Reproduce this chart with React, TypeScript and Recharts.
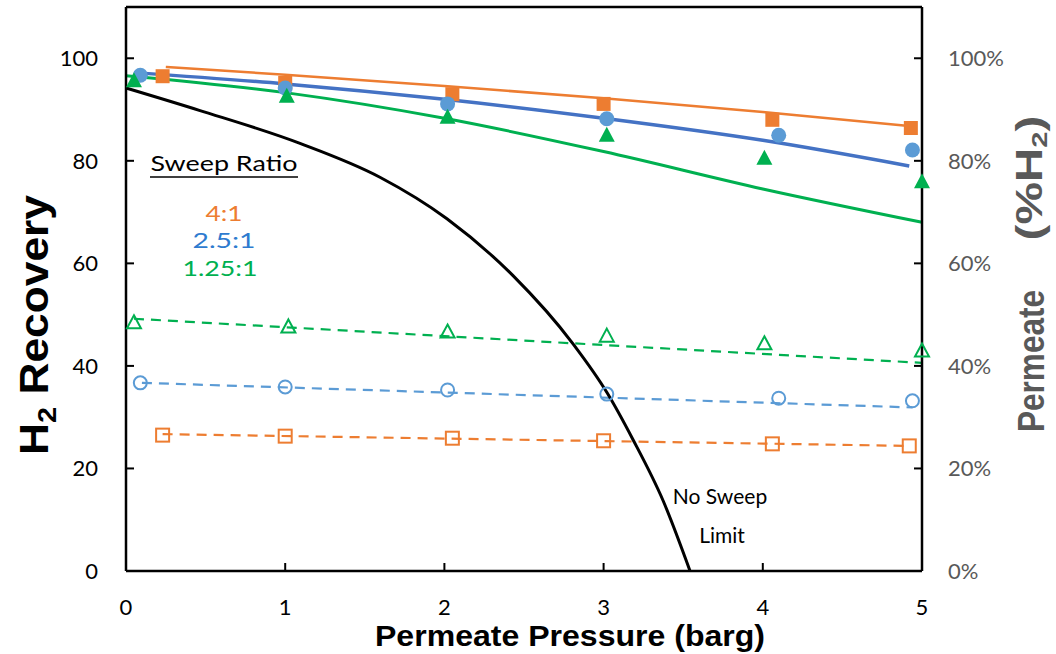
import { ComposedChart, Line, Scatter, XAxis, YAxis, ReferenceLine } from 'recharts';

const ORANGE = '#ED7D31';
const BLUE_MARK = '#5B9BD5';
const BLUE_LINE = '#4472C4';
const BLUE_TEXT = '#2E7BCF';
const GREEN = '#00B050';
const GRAY = '#595959';

const xTicks = [0, 1, 2, 3, 4, 5];
const yTicks = [0, 20, 40, 60, 80, 100];

// H2 recovery, measured (filled markers)
const rec4x = [0.23, 1.0, 2.05, 3.0, 4.06, 4.93];
const rec4y = [96.5, 95.2, 93.0, 91.1, 88.0, 86.4];
const rec25x = [0.09, 1.0, 2.02, 3.02, 4.1, 4.94];
const rec25y = [96.7, 94.2, 91.1, 88.2, 85.0, 82.1];
const rec125x = [0.05, 1.01, 2.02, 3.02, 4.01, 5.0];
const rec125y = [95.8, 92.8, 88.7, 85.2, 80.7, 76.1];

// H2 recovery, model (solid lines)
const fit4x = [0.25, 1, 2, 3, 4, 4.92];
const fit4y = [98.3, 96.8, 94.6, 92.2, 89.5, 86.8];
const fit25x = [0.05, 1, 2, 3, 4, 4.92];
const fit25y = [97.2, 95.0, 92.0, 88.3, 84.0, 79.0];
const fit125x = [0, 1, 2, 3, 4, 5];
const fit125y = [96.6, 93.3, 88.3, 81.8, 74.5, 68.0];

// no sweep limit
const limitX = [0, 0.465, 1.093, 1.595, 2.016, 2.431, 2.808, 3.021, 3.185, 3.374, 3.543];
const limitY = [94.2, 89.8, 83.4, 76.8, 68.7, 57.6, 44.3, 34.8, 25.6, 13.7, 0];

// permeate %H2, measured (hollow markers)
const perm4x = [0.23, 1.0, 2.05, 3.0, 4.06, 4.92];
const perm4y = [26.5, 26.3, 25.9, 25.4, 24.8, 24.4];
const perm25x = [0.09, 1.0, 2.02, 3.02, 4.1, 4.94];
const perm25y = [36.7, 35.9, 35.3, 34.5, 33.7, 33.2];
const perm125x = [0.05, 1.02, 2.02, 3.02, 4.01, 5.0];
const perm125y = [48.6, 47.8, 46.8, 46.0, 44.5, 43.1];

// permeate %H2, model (dashed lines)
const pfit4x = [0.23, 4.92];
const pfit4y = [26.7, 24.4];
const pfit25x = [0.1, 4.94];
const pfit25y = [36.7, 31.9];
const pfit125x = [0.05, 5.0];
const pfit125y = [49.2, 40.6];

const zip = (xs: number[], ys: number[]) => xs.map((x, i) => ({ x, y: ys[i] }));

const marker = (kind: string, color: string, filled: boolean) => (props: any) => {
  const { cx, cy } = props;
  if (cx == null || cy == null) return <g />;
  const fill = filled ? color : 'none';
  const sw = filled ? 0 : 2;
  if (kind === 'square') {
    const s = filled ? 14 : 13;
    return <rect x={cx - s / 2} y={cy - s / 2} width={s} height={s} fill={fill} stroke={color} strokeWidth={sw} />;
  }
  if (kind === 'circle') {
    const r = filled ? 7.5 : 6.5;
    return <circle cx={cx} cy={cy} r={r} fill={fill} stroke={color} strokeWidth={sw} />;
  }
  const h = filled ? 15 : 13;
  const w = filled ? 16 : 14;
  const pts = `${cx},${cy - h / 2} ${cx + w / 2},${cy + h / 2} ${cx - w / 2},${cy + h / 2}`;
  return <polygon points={pts} fill={fill} stroke={color} strokeWidth={sw} strokeLinejoin="miter" />;
};

const FONT = 'Lato, "Open Sans", sans-serif';
const tickFont = { fontFamily: FONT, fontSize: 22 };

export default function App() {
  return (
    <div style={{ position: 'absolute', left: 0, top: 0, width: 1056, height: 654, background: '#fff' }}>
      <ComposedChart width={1056} height={654} margin={{ top: 7, right: 0, bottom: 0, left: 0 }}>
        <XAxis
          dataKey="x"
          type="number"
          domain={[0, 5]}
          ticks={xTicks}
          height={83}
          tickSize={-8}
          tickMargin={36}
          axisLine={{ stroke: '#000', strokeWidth: 2.5 }}
          tickLine={{ stroke: '#000', strokeWidth: 2 }}
          tick={{ ...tickFont, fill: '#000' }}
        />
        <YAxis
          yAxisId="left"
          dataKey="y"
          type="number"
          domain={[0, 110]}
          ticks={yTicks}
          width={126}
          tickSize={-8}
          tickMargin={36}
          axisLine={{ stroke: '#000', strokeWidth: 2.5 }}
          tickLine={{ stroke: '#000', strokeWidth: 2 }}
          tick={{ ...tickFont, fill: '#000' }}
        />
        <YAxis
          yAxisId="right"
          orientation="right"
          dataKey="y"
          type="number"
          domain={[0, 110]}
          ticks={yTicks}
          width={134}
          tickSize={-8}
          tickMargin={34}
          tickFormatter={(v: number) => `${v}%`}
          axisLine={{ stroke: '#000', strokeWidth: 2.5 }}
          tickLine={{ stroke: '#000', strokeWidth: 2 }}
          tick={{ ...tickFont, fill: GRAY }}
        />
        <ReferenceLine yAxisId="left" y={110} stroke="#000" strokeWidth={2.5} ifOverflow="visible" />

        <Line yAxisId="right" data={zip(pfit4x, pfit4y)} dataKey="y" stroke={ORANGE} strokeWidth={2.2} strokeDasharray="10 7" dot={false} isAnimationActive={false} />
        <Line yAxisId="right" data={zip(pfit25x, pfit25y)} dataKey="y" stroke={BLUE_MARK} strokeWidth={2.2} strokeDasharray="10 7" dot={false} isAnimationActive={false} />
        <Line yAxisId="right" data={zip(pfit125x, pfit125y)} dataKey="y" stroke={GREEN} strokeWidth={2.2} strokeDasharray="10 7" dot={false} isAnimationActive={false} />

        <Line yAxisId="left" type="monotone" data={zip(limitX, limitY)} dataKey="y" stroke="#000" strokeWidth={3} dot={false} isAnimationActive={false} />
        <Line yAxisId="left" type="monotone" data={zip(fit125x, fit125y)} dataKey="y" stroke={GREEN} strokeWidth={3} dot={false} isAnimationActive={false} />
        <Line yAxisId="left" type="monotone" data={zip(fit25x, fit25y)} dataKey="y" stroke={BLUE_LINE} strokeWidth={3.5} dot={false} isAnimationActive={false} />
        <Line yAxisId="left" type="monotone" data={zip(fit4x, fit4y)} dataKey="y" stroke={ORANGE} strokeWidth={2.5} dot={false} isAnimationActive={false} />

        <Scatter yAxisId="right" data={zip(perm4x, perm4y)} shape={marker('square', ORANGE, false)} isAnimationActive={false} />
        <Scatter yAxisId="right" data={zip(perm25x, perm25y)} shape={marker('circle', BLUE_MARK, false)} isAnimationActive={false} />
        <Scatter yAxisId="right" data={zip(perm125x, perm125y)} shape={marker('triangle', GREEN, false)} isAnimationActive={false} />

        <Scatter yAxisId="left" data={zip(rec4x, rec4y)} shape={marker('square', ORANGE, true)} isAnimationActive={false} />
        <Scatter yAxisId="left" data={zip(rec25x, rec25y)} shape={marker('circle', BLUE_MARK, true)} isAnimationActive={false} />
        <Scatter yAxisId="left" data={zip(rec125x, rec125y)} shape={marker('triangle', GREEN, true)} isAnimationActive={false} />
      </ComposedChart>

      <svg width={1056} height={654} style={{ position: 'absolute', left: 0, top: 0, pointerEvents: 'none' }}>
        <g fontFamily={FONT} textAnchor="middle" fontSize={22}>
          <text x={224} y={171} fill="#000" textLength={147} lengthAdjust="spacingAndGlyphs">Sweep Ratio</text>
          <line x1={150} y1={177} x2={298} y2={177} stroke="#000" strokeWidth={1.6} />
          <text x={224} y={221} fill={ORANGE} textLength={37} lengthAdjust="spacingAndGlyphs">4:1</text>
          <text x={224} y={248} fill={BLUE_TEXT} textLength={63} lengthAdjust="spacingAndGlyphs">2.5:1</text>
          <text x={220} y={276} fill={GREEN} textLength={75} lengthAdjust="spacingAndGlyphs">1.25:1</text>
          <text x={720} y={504} fontSize={21} fill="#000">No Sweep</text>
          <text x={722} y={543} fontSize={21} fill="#000">Limit</text>
        </g>
        <text x={570} y={646} textAnchor="middle" fontFamily='"Liberation Sans Narrow", "Liberation Sans", Arial, sans-serif' fontWeight="bold" fontSize={30} fill="#000" textLength={390} lengthAdjust="spacingAndGlyphs">
          Permeate Pressure (barg)
        </text>
        <text transform="translate(48,325) rotate(-90)" textAnchor="middle" fontFamily='"Liberation Sans", Arial, sans-serif' fontWeight="bold" fontSize={40} fill="#000" textLength={260} lengthAdjust="spacingAndGlyphs">
          H<tspan fontSize={26} dy={8}>2</tspan><tspan dy={-8}> Recovery</tspan>
        </text>
        <text transform="translate(1044,361) rotate(-90)" textAnchor="middle" fontFamily='"Liberation Sans", Arial, sans-serif' fontWeight="bold" fontSize={36} fill={GRAY} textLength={142} lengthAdjust="spacingAndGlyphs">
          Permeate
        </text>
        <text transform="translate(1042,178) rotate(-90)" textAnchor="middle" fontFamily='"Liberation Sans", Arial, sans-serif' fontWeight="bold" fontSize={36} fill={GRAY} textLength={125} lengthAdjust="spacingAndGlyphs">
          (%H<tspan fontSize={22} dy={5}>2</tspan><tspan dy={-5}>)</tspan>
        </text>
      </svg>
    </div>
  );
}
